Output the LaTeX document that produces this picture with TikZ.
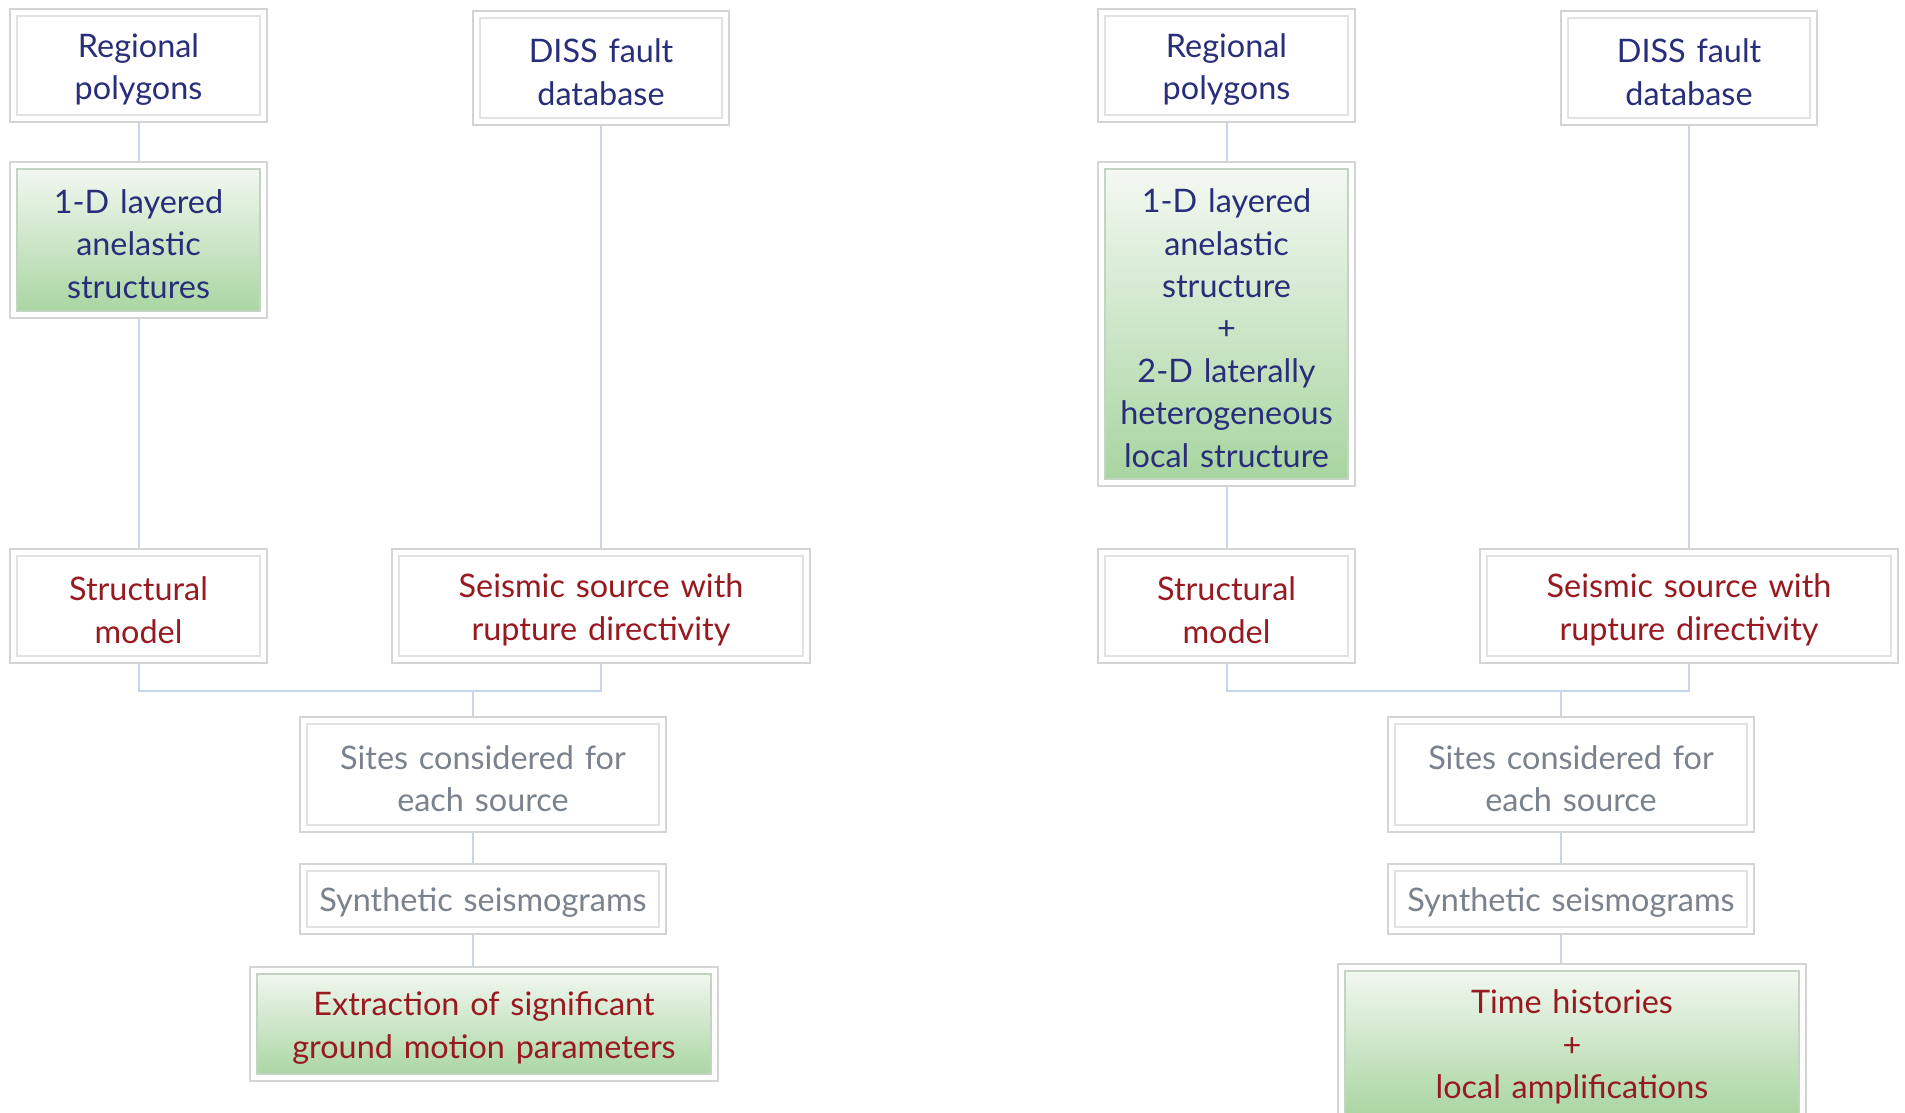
\documentclass[tikz,border=0pt]{standalone}
\usepackage{fontspec}
\setmainfont{Lato}
\definecolor{navy}{RGB}{40,46,122}
\definecolor{dred}{RGB}{152,26,32}
\definecolor{gtxt}{RGB}{122,130,142}
\definecolor{outerc}{RGB}{212,212,212}
\definecolor{innerc}{RGB}{226,226,226}
\definecolor{linec}{RGB}{200,214,234}
\definecolor{gtop}{RGB}{245,249,244}
\definecolor{gbot}{RGB}{166,212,158}
\definecolor{gedge}{RGB}{196,212,194}
\tikzset{
  bx/.style={draw=outerc, line width=0.8pt, fill=white, inner sep=0pt,
    path picture={\draw[innerc, line width=0.8pt] ([xshift=3.5pt,yshift=-3.5pt]path picture bounding box.north west) rectangle ([xshift=-3.5pt,yshift=3.5pt]path picture bounding box.south east);}},
  gbx/.style={bx,
    path picture={\draw[gedge, line width=0.8pt, top color=gtop, bottom color=gbot] ([xshift=3.5pt,yshift=-3.5pt]path picture bounding box.north west) rectangle ([xshift=-3.5pt,yshift=3.5pt]path picture bounding box.south east);}},
  btext/.style={align=center, inner sep=0pt, yshift=-2pt,
    font=\fontsize{16.2}{21.2}\selectfont},
  conn/.style={draw=linec, line width=1pt}
}
\newcommand\mkbox[8]{%
  \node[#2, minimum width={(#6-#4)*0.5pt}, minimum height={(#7-#5)*0.5pt},
        label={[btext, text=#3, text width={(#6-#4)*0.5pt-10pt}]center:#8}]
        (#1) at ({(#4+#6)/2},{(#5+#7)/2}) {};}
\begin{document}
\begin{tikzpicture}[x=0.5pt,y=-0.5pt]
\useasboundingbox (0,0) rectangle (1905,1113);
\clip (0,0) rectangle (1905,1113);
% ---------- left ----------
\mkbox{rpL}{bx}{navy}{10}{9}{267}{122}{Regional\\polygons}
\mkbox{dbL}{bx}{navy}{473}{11}{729}{125}{DISS fault\\database}
\mkbox{ldL}{gbx}{navy}{10}{162}{267}{318}{1-D layered\\anelastic\\structures}
\mkbox{smL}{bx}{dred}{10}{549}{267}{663}{Structural\\model}
\mkbox{ssL}{bx}{dred}{392}{549}{810}{663}{Seismic source with\\rupture directivity}
\mkbox{scL}{bx}{gtxt}{300}{717}{666}{832}{Sites considered for\\each source}
\mkbox{syL}{bx}{gtxt}{300}{864}{666}{934}{Synthetic seismograms}
\mkbox{exL}{gbx}{dred}{250}{967}{718}{1081}{Extraction of significant\\ground motion parameters}
\coordinate (hL) at (0,691);
\coordinate (jL) at (473,691);
\draw[conn] (rpL.south) -- (ldL.north);
\draw[conn] (ldL.south) -- (smL.north);
\draw[conn] (dbL.south) -- (ssL.north);
\draw[conn] (smL.south) -- (smL.south |- hL) -| (ssL.south);
\draw[conn] (jL) -- (jL |- scL.north);
\draw[conn] (jL |- scL.south) -- (jL |- syL.north);
\draw[conn] (jL |- syL.south) -- (jL |- exL.north);
% ---------- right ----------
\mkbox{rpR}{bx}{navy}{1098}{9}{1355}{122}{Regional\\polygons}
\mkbox{dbR}{bx}{navy}{1561}{11}{1817}{125}{DISS fault\\database}
\mkbox{ldR}{gbx}{navy}{1098}{162}{1355}{486}{1-D layered\\anelastic\\structure\\+\\2-D laterally\\heterogeneous\\local structure}
\mkbox{smR}{bx}{dred}{1098}{549}{1355}{663}{Structural\\model}
\mkbox{ssR}{bx}{dred}{1480}{549}{1898}{663}{Seismic source with\\rupture directivity}
\mkbox{scR}{bx}{gtxt}{1388}{717}{1754}{832}{Sites considered for\\each source}
\mkbox{syR}{bx}{gtxt}{1388}{864}{1754}{934}{Synthetic seismograms}
\mkbox{thR}{gbx}{dred}{1338}{964}{1806}{1122}{Time histories\\+\\local amplifications}
\coordinate (hR) at (0,691);
\coordinate (jR) at (1561,691);
\draw[conn] (rpR.south) -- (ldR.north);
\draw[conn] (ldR.south) -- (smR.north);
\draw[conn] (dbR.south) -- (ssR.north);
\draw[conn] (smR.south) -- (smR.south |- hR) -| (ssR.south);
\draw[conn] (jR) -- (jR |- scR.north);
\draw[conn] (jR |- scR.south) -- (jR |- syR.north);
\draw[conn] (jR |- syR.south) -- (jR |- thR.north);
\end{tikzpicture}
\end{document}
